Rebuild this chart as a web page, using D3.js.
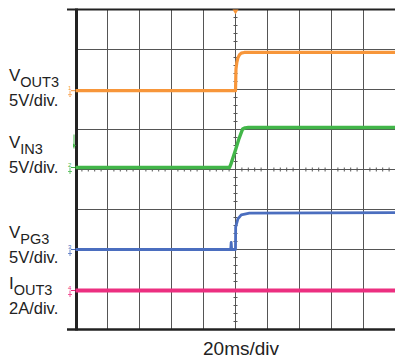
<!DOCTYPE html>
<html><head><meta charset="utf-8">
<script src="https://cdn.jsdelivr.net/npm/d3@7"></script>
<style>html,body{margin:0;padding:0;background:#fff;}svg{display:block;}</style>
</head><body>
<svg id="c" width="395" height="360"></svg>
<script>
// time in ms (20 ms/div), values in V or A
const xTicks = [-100,-80,-60,-40,-20,0,20,40,60,80,100];
const yTicks = [0,1,2,3,4,5,6,7,8];
const channelNames = ["VOUT3","VIN3","VPG3","IOUT3"];
const channelColors = ["#f7963a","#42b649","#4b6ebf","#ec2f80"];
const channelScale = [5,5,5,2];          // units per division
const channelOffset = [5.97,4.05,2.0,0.975]; // ground position in divisions
const vout3T = [-100,0,0.3,0.8,1.5,2.5,3.6,5.5,7.7,100];
const vout3V = [0,0,2.7,3.5,4.1,4.5,4.7,4.78,4.8,4.8];
const vin3T = [-100,-3.75,-3,0,2,4.4,6,8,100];
const vin3V = [0,0,0.35,2.2,3.5,4.8,4.95,5.0,5.0];
const vpg3T = [-100,-3,-2.7,-2.4,0,0.1,1.5,3.6,8.7,100];
const vpg3V = [0,0,0.9,0,0,2.8,3.84,4.34,4.54,4.6];
const iout3T = [-100,100];
const iout3V = [0,0];
const labelMain = ["V","V","V","I"];
const labelSub = ["OUT3","IN3","PG3","OUT3"];
const labelScale = ["5V/div.","5V/div.","5V/div.","2A/div."];
const xLabel = "20ms/div";

const svg = d3.select("#c");
const x = d3.scaleLinear().domain([-100,100]).range([75.5,395.5]);
const y = d3.scaleLinear().domain([0,8]).range([329.5,9.5]);

// grid
const g = svg.append("g");
g.selectAll("line.v").data(xTicks.slice(1,-1)).join("line")
  .attr("x1",d=>x(d)).attr("x2",d=>x(d)).attr("y1",y(8)).attr("y2",y(0))
  .attr("stroke","#555").attr("stroke-width",1);
g.selectAll("line.h").data(yTicks.slice(1,-1)).join("line")
  .attr("y1",d=>y(d)).attr("y2",d=>y(d)).attr("x1",x(-100)).attr("x2",x(100))
  .attr("stroke","#555").attr("stroke-width",1);
// minor ticks on center lines
const minorX = d3.range(-100,100.01,4);
g.selectAll("line.mx").data(minorX).join("line")
  .attr("x1",d=>x(d)).attr("x2",d=>x(d)).attr("y1",y(4)-2).attr("y2",y(4)+2)
  .attr("stroke","#555").attr("stroke-width",1);
const minorY = d3.range(0,8.01,0.2);
g.selectAll("line.my").data(minorY).join("line")
  .attr("y1",d=>y(d)).attr("y2",d=>y(d)).attr("x1",x(0)-2).attr("x2",x(0)+2)
  .attr("stroke","#555").attr("stroke-width",1);

// borders
svg.append("line").attr("x1",67).attr("x2",395).attr("y1",y(8)).attr("y2",y(8)).attr("stroke","#222").attr("stroke-width",2);
svg.append("line").attr("x1",67).attr("x2",395).attr("y1",y(0)).attr("y2",y(0)).attr("stroke","#222").attr("stroke-width",2.5);
svg.append("line").attr("x1",76.5).attr("x2",76.5).attr("y1",y(8)-1).attr("y2",y(0)+1).attr("stroke","#222").attr("stroke-width",3);

// traces
const traces = [[vout3T,vout3V],[vin3T,vin3V],[vpg3T,vpg3V],[iout3T,iout3V]];
const widths = [3.2,3.4,2.8,4];
traces.forEach((tr,i)=>{
  const pts = tr[0].map((t,k)=>[t, tr[1][k]]);
  const line = d3.line().x(d=>x(d[0])).y(d=>y(channelOffset[i] + d[1]/channelScale[i]));
  svg.append("path").datum(pts).attr("d",line).attr("fill","none")
    .attr("stroke",channelColors[i]).attr("stroke-width",widths[i]).attr("stroke-linejoin","round");
});

// ground markers
channelOffset.forEach((o,i)=>{
  const gy = y(o), c = channelColors[i];
  const m = svg.append("g").attr("transform",`translate(68,${gy})`);
  m.append("text").attr("x",0).attr("y",-1).attr("font-size",6).attr("font-family","Liberation Sans, Arial, sans-serif").attr("fill",c).text(i+1);
  m.append("line").attr("x1",3).attr("x2",7).attr("y1",0).attr("y2",0).attr("stroke",c).attr("stroke-width",1);
  m.append("line").attr("x1",2).attr("x2",2).attr("y1",0).attr("y2",4).attr("stroke",c).attr("stroke-width",0.8);
  m.append("line").attr("x1",0).attr("x2",4).attr("y1",4).attr("y2",4).attr("stroke",c).attr("stroke-width",0.8);
  m.append("line").attr("x1",1).attr("x2",3).attr("y1",5.5).attr("y2",5.5).attr("stroke",c).attr("stroke-width",0.8);
});
// trigger markers
svg.append("path").attr("d",`M${x(0)-3},${y(8)} L${x(0)+3},${y(8)} L${x(0)},${y(8)+5} Z`).attr("fill",channelColors[0]);
const tl = svg.append("g").attr("transform",`translate(74,${y(4.6)})`);
tl.append("line").attr("x1",0).attr("x2",0).attr("y1",-11).attr("y2",3).attr("stroke",channelColors[1]).attr("stroke-width",1);
tl.append("path").attr("d","M-1,-2 L2,0 L-1,2 Z").attr("fill",channelColors[1]);

// labels
const font = "Liberation Sans, Arial, sans-serif";
const subBase = [89,156,246,297];
subBase.forEach((b,i)=>{
  const t = svg.append("text").attr("x",9).attr("y",b-8).attr("font-family",font).attr("font-size",17).attr("fill","#222");
  t.append("tspan").text(labelMain[i]);
  t.append("tspan").attr("dy",6).attr("font-size",14.5).text(labelSub[i]);
  svg.append("text").attr("x",9).attr("y",b+16.5).attr("font-family",font).attr("font-size",16.5).attr("fill","#222").text(labelScale[i]);
});
svg.append("text").attr("x",203).attr("y",355).attr("font-family",font).attr("font-size",19).attr("fill","#222").text(xLabel);
</script>
</body></html>
